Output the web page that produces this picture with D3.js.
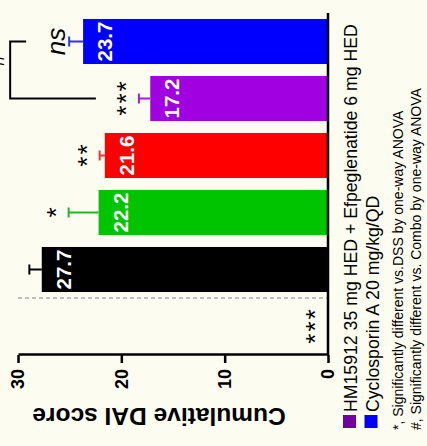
<!DOCTYPE html>
<html>
<head>
<meta charset="utf-8">
<script src="https://cdn.jsdelivr.net/npm/d3@7"></script>
<style>
  html, body { margin: 0; padding: 0; background: #fcfcf0; }
  svg { display: block; font-family: Arial, "Liberation Sans", sans-serif; }
</style>
</head>
<body>
<div id="chart"></div>
<script>
// groups, left to right in the upright chart
var groups = ["Normal", "DSS", "G3", "G4", "Combo", "CsA"];
var scores = [0, 27.7, 22.2, 21.6, 17.2, 23.7];
var errors = [0, 1.2, 2.9, 0.5, 1.1, 1.35];
var marks = ["***", "", "*", "**", "***", "ns"];
var barColors = ["#000000", "#000000", "#00c400", "#ff0000", "#a100e0", "#0000ff"];
var errColors = ["#000000", "#000000", "#22b822", "#ff3030", "#a020e0", "#3030ff"];
var yTicks = [0, 10, 20, 30];
var legendLabels = ["HM15912 35 mg HED + Efpeglenatide 6 mg HED", "Cyclosporin A 20 mg/kg/QD"];
var legendColors = ["#7000a0", "#0000ff"];
var notes = ["*, Significantly different vs.DSS by one-way ANOVA", "#, Significantly different vs. Combo by one-way ANOVA"];

let width = 427;
let height = 446;

let svg = d3.select('#chart')
  .append('svg')
  .attr('width', width)
  .attr('height', height)

svg.append('rect')
  .attr('width', width)
  .attr('height', height)
  .attr('fill', '#fcfcf0')

// the figure is an upright bar chart turned a quarter turn to the left
let g = svg.append('g')
  .attr('transform', `translate(0,${height}) rotate(-90)`)

let x = d3.scaleBand()
  .domain(groups)
  .range([91, 433])
  .paddingInner(0.21)
  .paddingOuter(0.105)

let y = d3.scaleLinear()
  .domain([0, 30])
  .range([328, 18])

// dashed separator between Normal and DSS
let sepX = x(groups[1]) - x.step() * x.paddingInner() / 2
g.append('line')
  .attr('x1', sepX).attr('x2', sepX)
  .attr('y1', y(30)).attr('y2', y(0))
  .attr('stroke', '#a8a8a8')
  .attr('stroke-width', 1.5)
  .attr('stroke-dasharray', '4,3')

/** bars */
g.selectAll('.bar')
  .data(groups)
  .enter()
  .append('rect')
  .attr('class', 'bar')
  .attr('x', d => x(d))
  .attr('width', x.bandwidth())
  .attr('y', (d, i) => y(scores[i]))
  .attr('height', (d, i) => y(0) - y(scores[i]))
  .attr('fill', (d, i) => barColors[i])

/** error bars */
groups.forEach((d, i) => {
  if (errors[i] <= 0) return
  const cx = x(d) + x.bandwidth() / 2
  const top = y(scores[i] + errors[i])
  g.append('line')
    .attr('x1', cx).attr('x2', cx)
    .attr('y1', y(scores[i])).attr('y2', top)
    .attr('stroke', errColors[i]).attr('stroke-width', 2)
  g.append('line')
    .attr('x1', cx - 5).attr('x2', cx + 5)
    .attr('y1', top).attr('y2', top)
    .attr('stroke', errColors[i]).attr('stroke-width', 2)
})

/** value labels inside the bars */
g.selectAll('.val')
  .data(groups.filter((d, i) => scores[i] > 0))
  .enter()
  .append('text')
  .attr('class', 'val')
  .attr('x', d => x(d) + x.bandwidth() / 2)
  .attr('y', d => y(scores[groups.indexOf(d)]) + 29)
  .attr('text-anchor', 'middle')
  .attr('fill', '#fff')
  .attr('font-weight', 'bold')
  .attr('font-size', '20.5px')
  .text(d => scores[groups.indexOf(d)].toFixed(1))

/** significance marks */
groups.forEach((d, i) => {
  if (!marks[i]) return
  const isNs = marks[i] == 'ns'
  g.append('text')
    .attr('x', x(d) + x.bandwidth() / 2 + (isNs ? 0 : 1))
    .attr('y', y(scores[i] + errors[i]) - 4)
    .attr('text-anchor', 'middle')
    .attr('font-size', isNs ? '26px' : '26px')
    .attr('font-style', isNs ? 'italic' : 'normal')
    .attr('letter-spacing', isNs ? 0 : 2)
    .attr('fill', '#000')
    .text(marks[i])
})

// bracket Combo vs CsA
const iCombo = groups.indexOf('Combo')
const iCsa = groups.indexOf('CsA')
const legCombo = y(scores[iCombo] + errors[iCombo]) - 43
const legCsa = y(scores[iCsa] + errors[iCsa]) - 43
const bx1 = x('Combo') + x.bandwidth() / 2
const bx2 = x('CsA') + x.bandwidth() / 2
const by = Math.min(legCombo, legCsa) - 16
g.append('path')
  .attr('d', `M${bx1},${legCombo}V${by}H${bx2}V${legCsa}`)
  .attr('fill', 'none')
  .attr('stroke', '#000')
  .attr('stroke-width', 2)
g.append('text')
  .attr('x', (bx1 + bx2) / 2 + 10)
  .attr('y', by - 6)
  .attr('text-anchor', 'middle')
  .attr('font-size', '24px')
  .text('#')

/** axes */
let yAxis = g.append('g')
  .attr('transform', `translate(${x.range()[0]},0)`)
  .call(d3.axisLeft(y).tickValues(yTicks).tickSize(8).tickSizeOuter(0).tickPadding(6))
yAxis.select('.domain').attr('stroke-width', 2.5)
yAxis.selectAll('.tick line').attr('stroke-width', 2.5)
yAxis.selectAll('.tick text')
  .attr('font-size', '18px')
  .attr('font-weight', 'bold')
  .attr('font-family', 'Arial, "Liberation Sans", sans-serif')

g.append('line')
  .attr('x1', x.range()[0]).attr('x2', x.range()[1])
  .attr('y1', y(0)).attr('y2', y(0))
  .attr('stroke', '#000')
  .attr('stroke-width', 2.5)

g.append('text')
  .attr('transform', `translate(38,159) rotate(-90)`)
  .attr('text-anchor', 'middle')
  .attr('font-size', '24.5px')
  .attr('font-weight', 'bold')
  .text('Cumulative DAI score')

/** legend */
legendLabels.forEach((label, i) => {
  const base = 357 + i * 21.5
  g.append('rect')
    .attr('x', 18)
    .attr('y', base - 14)
    .attr('width', 13)
    .attr('height', 13)
    .attr('fill', legendColors[i])
  g.append('text')
    .attr('x', 34)
    .attr('y', base)
    .attr('font-size', '17.7px')
    .text(label)
})

/** footnotes */
notes.forEach((note, i) => {
  g.append('text')
    .attr('x', 16)
    .attr('y', 403 + i * 18)
    .attr('font-size', '14px')
    .text(note)
})
</script>
</body>
</html>
